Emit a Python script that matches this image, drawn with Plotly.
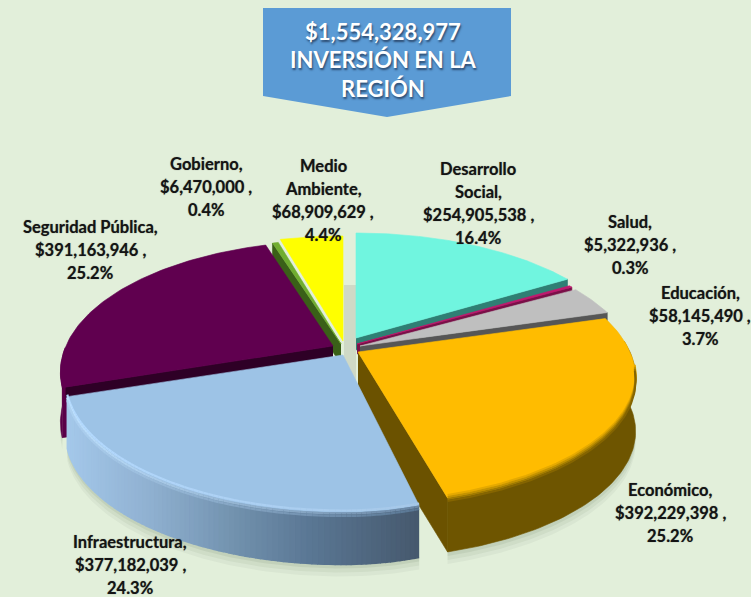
import numpy as np
import plotly.graph_objects as go

# ---- data ----
categories = ["Desarrollo Social", "Salud", "Educación", "Económico",
              "Infraestructura", "Seguridad Pública", "Gobierno", "Medio Ambiente"]
values = [254905538, 5322936, 58145490, 392229398,
          377182039, 391163946, 6470000, 68909629]
title_lines = ["$1,554,328,977", "INVERSIÓN EN LA", "REGIÓN"]
name_lines = [["Desarrollo", "Social,"], ["Salud,"], ["Educación,"], ["Económico,"],
              ["Infraestructura,"], ["Seguridad Pública,"], ["Gobierno,"], ["Medio", "Ambiente,"]]

# ---- style / layout ----
top_colors = ["#70F5DF", "#C2186E", "#BFBFBF", "#FFBC00", "#9DC3E6", "#60004F", "#70AD30", "#FFFF00"]
wall_colors = ["#2F7F74", "#7A1048", "#565656", "#6E5500", "#7F9FBF", "#2E0026", "#3A6018", "#8A8A00"]
apexes = [(356, 338), (357, 344), (360, 346), (358, 352), (343, 355), (333, 346), (341, 344), (343, 341)]
x_scale_right = [1, 1, 1, 1, 0.85, 1, 1, 1]
x_scale_left = [1, 1, 1, 1, 1, 0.982, 1, 1]
y_scale_front = [1, 1, 1, 0.97, 1, 1, 1, 1]
depth = [12, 10, 8, 54, 52, 50, 20, 10]
label_pos = [(478, 169), (630, 222), (700, 293), (670, 490), (130, 542), (90, 227), (206, 164), (323, 166)]
LINE_GAP = 23
R, A, K = 272.0, 126.0, 0.2
draw_order = [7, 6, 0, 1, 2, 5, 3, 4]
FONT = "Lato"
INFRA_STOPS = [(0, "#A5C9EB"), (.25, "#8FB0D0"), (.5, "#7090AC"), (.7, "#5A7794"), (1, "#46596E")]

total = sum(values)
cum = np.concatenate([[0], np.cumsum(values)]) / total * 2 * np.pi


def arc(i, n=90):
    t = np.linspace(cum[i], cum[i + 1], n)
    u, v = np.sin(t), np.cos(t)
    w = 1 + K * v
    ax, ay = apexes[i]
    x = ax + R * u / w * np.where(u > 0, x_scale_right[i], x_scale_left[i])
    y = ay - A * v / w * np.where(v < 0, y_scale_front[i], 1.0)
    return x, y


def poly(x, y, color, lw=0.6):
    return go.Scatter(x=list(x), y=list(y), mode="lines", fill="toself", fillcolor=color,
                      line=dict(width=lw, color=color), hoverinfo="skip", showlegend=False)


def curve(x, y, color, width):
    return go.Scatter(x=list(x), y=list(y), mode="lines", line=dict(color=color, width=width),
                      hoverinfo="skip", showlegend=False)


def mix(c1, c2, f):
    a = [int(c1[j:j + 2], 16) for j in (1, 3, 5)]
    b = [int(c2[j:j + 2], 16) for j in (1, 3, 5)]
    f = min(max(f, 0), 1)
    return "#%02X%02X%02X" % tuple(round(p + (q - p) * f) for p, q in zip(a, b))


def stop_color(t):
    for (t0, c0), (t1, c1) in zip(INFRA_STOPS, INFRA_STOPS[1:]):
        if t <= t1:
            return mix(c0, c1, (t - t0) / (t1 - t0))
    return INFRA_STOPS[-1][1]


traces = []

# soft ground shadow
for i in (3, 4, 5):
    for off, alpha in ((12, .06), (8, .08), (4, .10)):
        x, y = arc(i)
        yy = y + depth[i] + off
        traces.append(go.Scatter(x=np.r_[x, x[::-1]], y=np.r_[yy, y[::-1]], mode="lines", fill="toself",
                                 fillcolor=f"rgba(90,110,80,{alpha})", line=dict(width=0),
                                 hoverinfo="skip", showlegend=False))

for i in draw_order:
    ax, ay = apexes[i]
    x, y = arc(i)
    d = depth[i]
    cosv = np.cos(np.linspace(cum[i], cum[i + 1], len(x)))
    # radial walls seen by the viewer
    if i in (0, 1, 2):
        traces.append(poly([ax, x[-1], x[-1], ax], [ay, y[-1], y[-1] + d, ay + d], wall_colors[i]))
    if i == 6:
        traces.append(poly([ax, x[0], x[0], ax], [ay, y[0], y[0] + d, ay + d], wall_colors[i]))
    if i == 5:
        # purple body of the wall, then the dark band just under the top face
        traces.append(poly([ax, x[0], x[0], ax], [ay, y[0], y[0] + d, ay + d], "#5A0048"))
        traces.append(poly([ax, x[0], x[0] + 6, ax], [ay, y[0], y[0] + 15, ay + 15], wall_colors[i]))
    if i == 3:
        traces.append(poly([ax, x[-1], x[-1], ax], [ay, y[-1], y[-1] + d, ay + d], "#6B5200"))
    # outer wall
    if i == 4:
        for s in range(0, len(x) - 1):
            col = stop_color((x[s] - 65) / (419 - 65))
            xs, ys = x[s:s + 2], y[s:s + 2]
            traces.append(poly(np.r_[xs, xs[::-1]], np.r_[ys, ys[::-1] + d], col, lw=1.5))
    elif i == 3:
        m = cosv < 0.1
        traces.append(poly(np.r_[x[m], x[m][::-1]], np.r_[y[m], y[m][::-1] + d], "#6E5500"))
    elif i == 5:
        m = cosv < 0
        traces.append(poly(np.r_[x[m], x[m][::-1]], np.r_[y[m], y[m][::-1] + d], "#5A0048"))
    # top face
    traces.append(poly(np.r_[ax, x, ax], np.r_[ay, y, ay], top_colors[i]))
    # rim shading
    if i == 4:
        # highlight fading toward the dark right-hand end
        for s in range(0, len(x) - 1):
            t = (x[s] - 65) / (419 - 65)
            xs, ys = x[s:s + 2], y[s:s + 2]
            traces.append(curve(xs, ys - 2, mix("#B4DAFF", "#A6C8E8", t), 2.2))
            traces.append(curve(xs, ys + 1, mix("#BFE2FF", "#6B88A6", t), 2.2))
            traces.append(curve(xs, ys + 3.5, mix("#AFD2F2", "#5A7794", t), 2.2))
    if i == 3:
        m = cosv < -0.12
        for off, col, w in ((-3, "#E6AA00", 2), (-1, "#C49300", 2), (1, "#A07A00", 2), (3, "#856500", 2)):
            traces.append(curve(x[m], y[m] + off, col, w))

fig = go.Figure(traces)

# labels, each line placed with the reference's line spacing
annotations = []
for i, lines in enumerate(name_lines):
    text_lines = lines + [f"${values[i]:,} ,", f"{values[i] / total * 100:.1f}%"]
    cx, cy = label_pos[i]
    for j, line in enumerate(text_lines):
        annotations.append(dict(x=cx, y=cy + j * LINE_GAP, text=f"<b>{line}</b>", showarrow=False,
                                xanchor="center", yanchor="middle", xref="x", yref="y",
                                font=dict(family=FONT, size=16.5, color="#141414",
                                          shadow="0 0 1px rgba(20,20,20,0.55)")))

# banner
for j, line in enumerate(title_lines):
    annotations.append(dict(x=383, y=31 + j * 28.5, text=f"<b>{line}</b>", showarrow=False,
                            xanchor="center", yanchor="middle", xref="x", yref="y",
                            font=dict(family=FONT, size=22, color="#FFFFFF",
                                      shadow="1px 2px 2px rgba(30,50,80,0.75)")))

shapes = [
    dict(type="path", path="M263,8 L511,8 L511,96 L387,117 L263,96 Z",
         fillcolor="#5B9BD5", line=dict(width=0), layer="below"),
    dict(type="path", path="M344,285 L356,285 L356,392 L344,392 Z",
         fillcolor="#CFD9C6", line=dict(width=0), layer="below"),
]

fig.update_layout(
    width=751, height=597, margin=dict(l=0, r=0, t=0, b=0),
    paper_bgcolor="#E2EFDA", plot_bgcolor="#E2EFDA",
    xaxis=dict(visible=False, range=[0, 751], fixedrange=True),
    yaxis=dict(visible=False, range=[597, 0], fixedrange=True),
    showlegend=False, annotations=annotations, shapes=shapes,
)
fig.write_html("out.html", config={"displayModeBar": False},
               post_script="document.body.style.margin='0';document.body.style.overflow='hidden';")
